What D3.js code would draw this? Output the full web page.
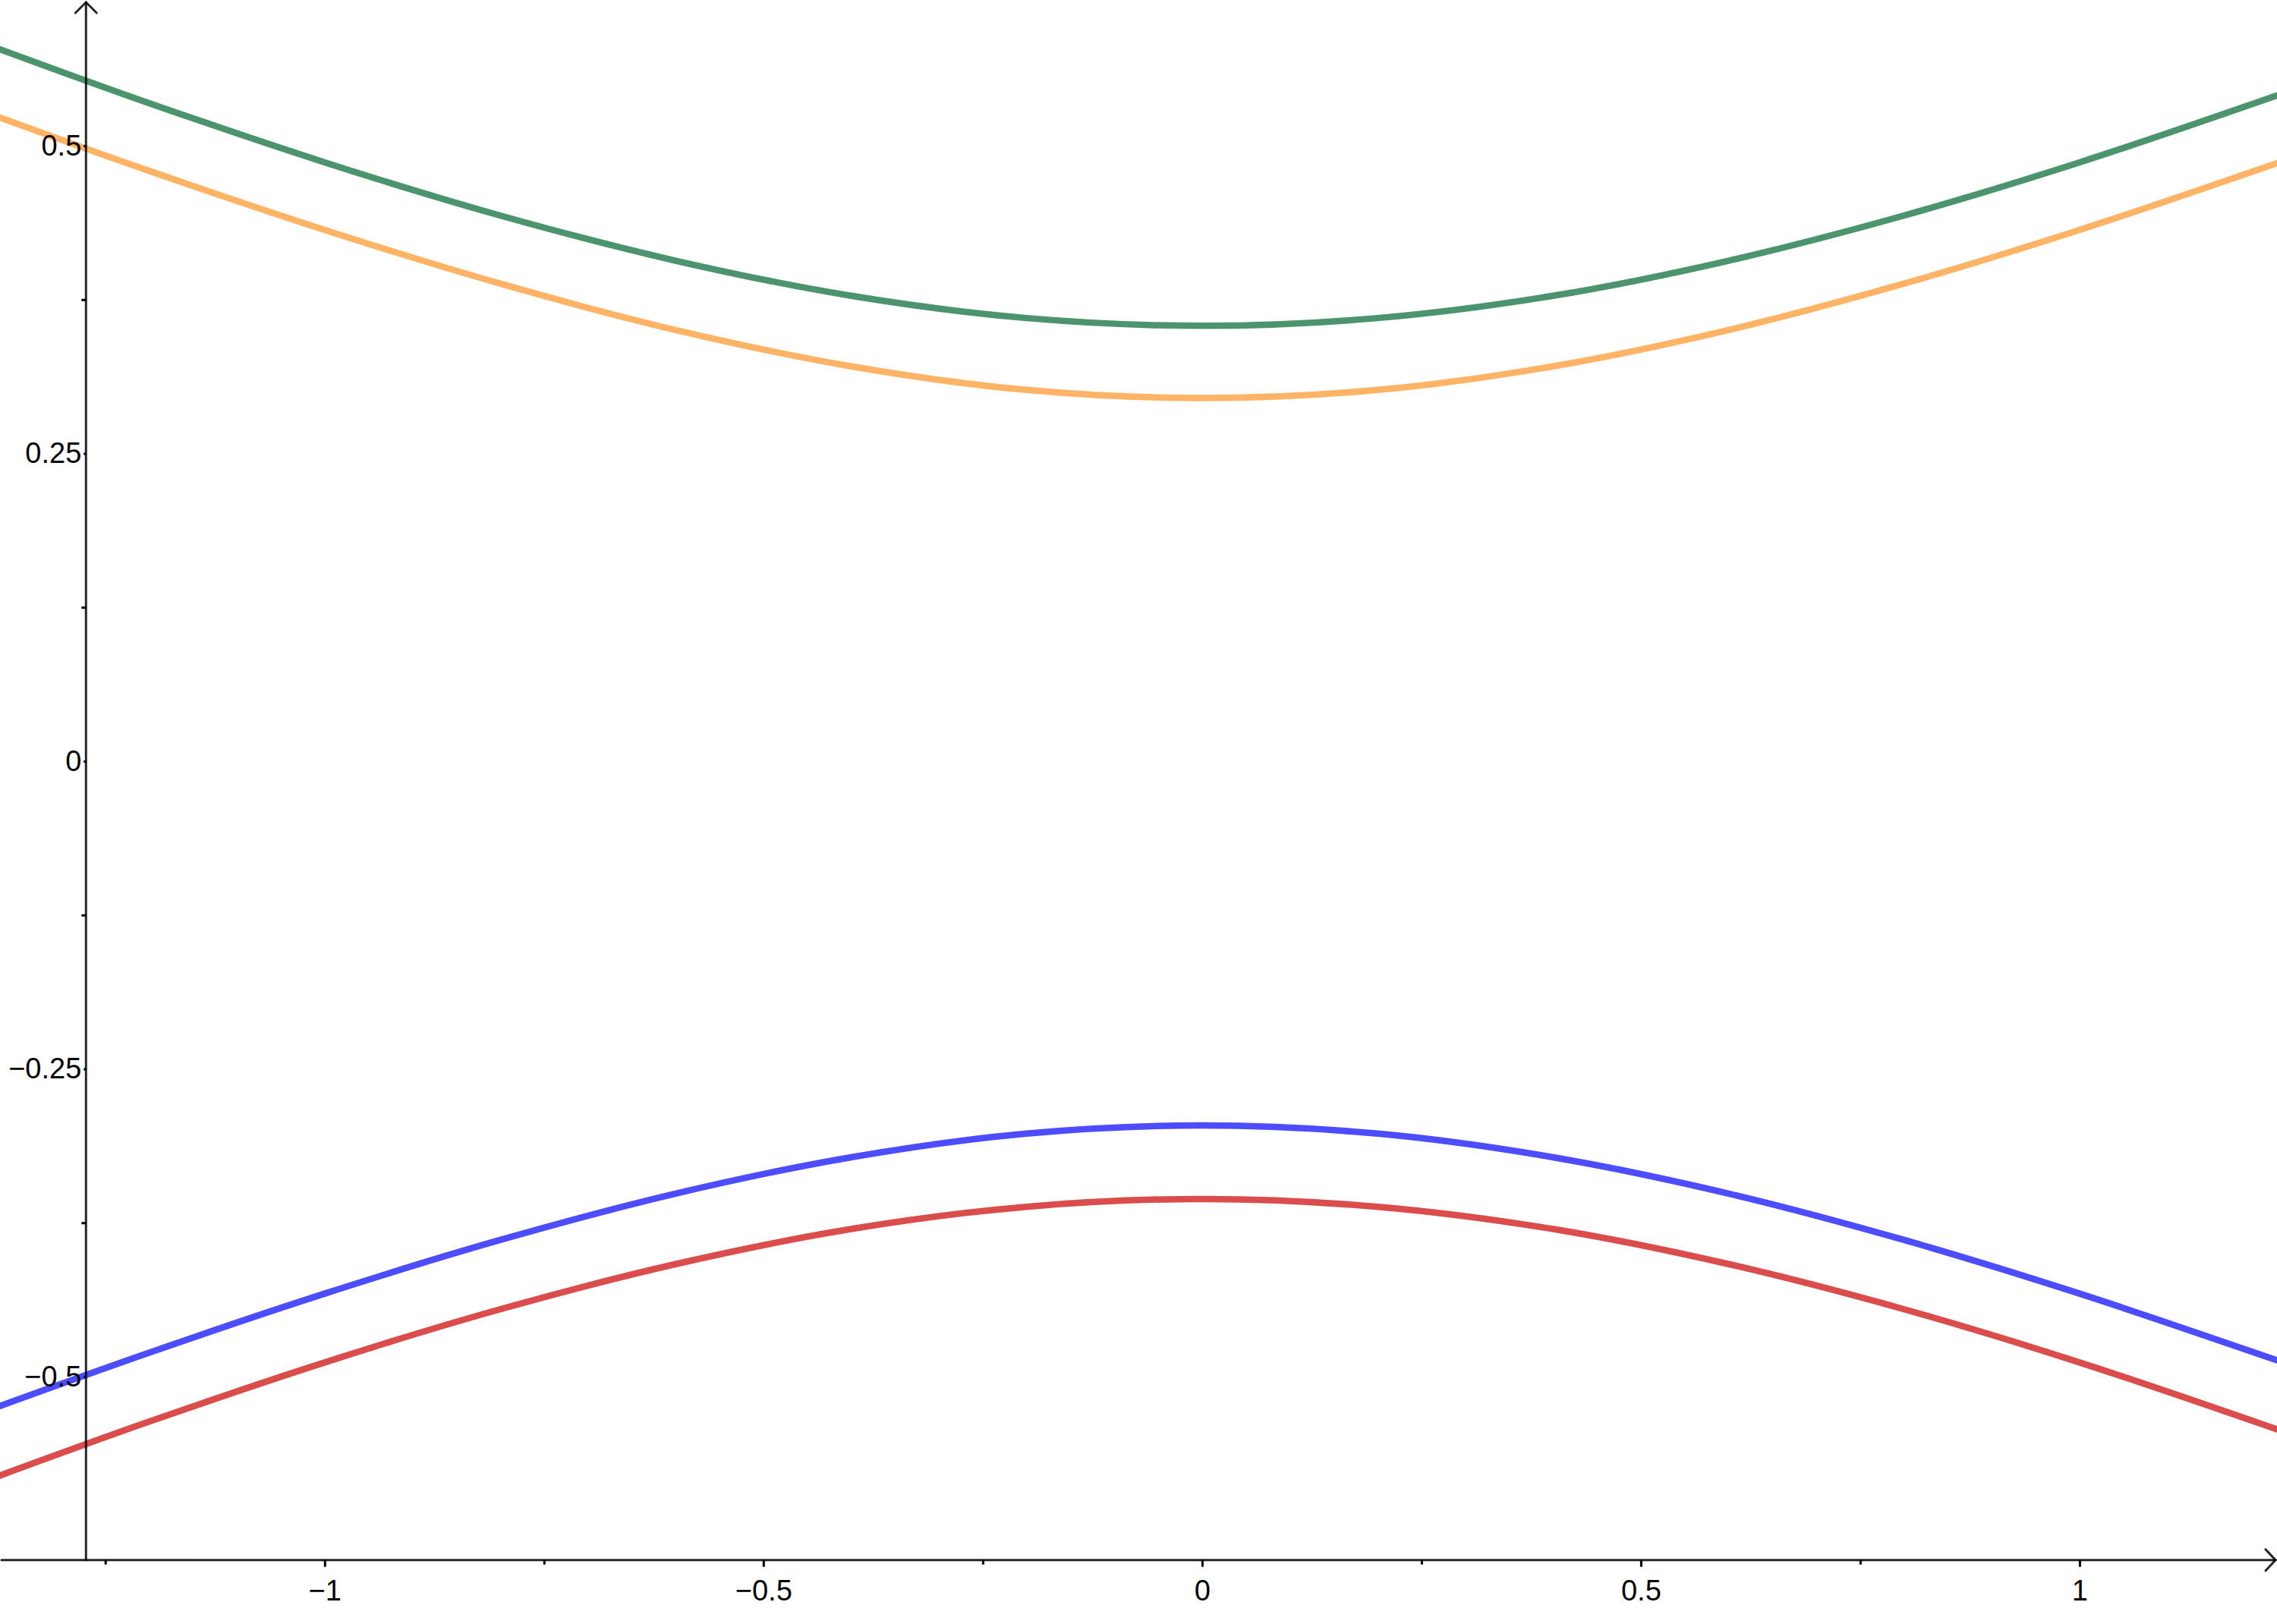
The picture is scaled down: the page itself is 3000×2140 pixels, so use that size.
<!DOCTYPE html>
<html>
<head>
<meta charset="utf-8">
<script src="https://cdn.jsdelivr.net/npm/d3@7"></script>
<style>
  html, body { margin: 0; padding: 0; background: #fff; }
  svg { display: block; }
  text { font-family: "Liberation Sans", Arial, sans-serif; }
</style>
</head>
<body>
<svg id="chart" width="3000" height="2140"></svg>
<script>
// ---- data ----
const xDomain = [-1.370, 1.225];
const yDomain = [-0.701, 0.6184];
const yAxisAtX = -1.272;   // vertical axis sits at this x value
const xAxisAtY = -0.649;   // horizontal axis sits at this y value

const xMajorTicks = [-1, -0.5, 0, 0.5, 1];
const xMajorLabels = ["\u22121", "\u22120.5", "0", "0.5", "1"];
const xMinorTicks = [-1.25, -0.75, -0.25, 0.25, 0.75];

const yMajorTicks = [0.5, 0.25, 0, -0.25, -0.5];
const yMajorLabels = ["0.5", "0.25", "0", "\u22120.25", "\u22120.5"];
const yMinorTicks = [0.375, 0.125, -0.125, -0.375];

const xSamples = [-1.37, -1.2, -1.0, -0.8, -0.6, -0.4, -0.2, 0, 0.2, 0.4, 0.6, 0.8, 1.0, 1.225];
const greenY  = [0.5784, 0.5346, 0.4865, 0.4433, 0.4066, 0.3781, 0.3600, 0.3537, 0.3600, 0.3781, 0.4066, 0.4433, 0.4865, 0.5409];
const orangeY = [0.5229, 0.4796, 0.4316, 0.3880, 0.3503, 0.3208, 0.3016, 0.2950, 0.3016, 0.3208, 0.3503, 0.3880, 0.4316, 0.4858];
const blueY   = [-0.5239, -0.4806, -0.4326, -0.3890, -0.3513, -0.3218, -0.3026, -0.2960, -0.3026, -0.3218, -0.3513, -0.3890, -0.4326, -0.4868];
const redY    = [-0.5804, -0.5366, -0.4885, -0.4453, -0.4086, -0.3801, -0.3620, -0.3557, -0.3620, -0.3801, -0.4086, -0.4453, -0.4885, -0.5429];

const seriesList = [
  { name: "green",  values: greenY,  color: "#4b946e" },
  { name: "orange", values: orangeY, color: "#ffb366" },
  { name: "blue",   values: blueY,   color: "#4d4dff" },
  { name: "red",    values: redY,    color: "#db4d4d" }
];

// ---- drawing ----
const W = 3000, H = 2140;
const svg = d3.select("#chart");
const x = d3.scaleLinear().domain(xDomain).range([0, W]);
const y = d3.scaleLinear().domain(yDomain).range([H, 0]);

const ax0 = x(yAxisAtX);
const ay0 = y(xAxisAtY);

// curves
const line = d3.line()
  .x(d => x(d[0]))
  .y(d => y(d[1]))
  .curve(d3.curveCatmullRom.alpha(0.5));

const curves = svg.append("g");
seriesList.forEach(s => {
  curves.append("path")
    .datum(xSamples.map((xv, i) => [xv, s.values[i]]))
    .attr("d", line)
    .attr("fill", "none")
    .attr("stroke", s.color)
    .attr("stroke-width", 8.5)
    .attr("stroke-linecap", "round")
    .attr("stroke-linejoin", "round");
});

// x axis
const xAxisG = svg.append("g").attr("transform", `translate(0,${ay0})`);
xAxisG.call(
  d3.axisBottom(x)
    .tickValues(xMajorTicks)
    .tickSize(9)
    .tickPadding(17)
    .tickFormat((d, i) => xMajorLabels[i])
);
xAxisG.select(".domain").remove();
xAxisG.selectAll(".tick line").attr("stroke", "#000").attr("stroke-width", 3);
xAxisG.selectAll(".tick text").attr("font-size", 38).attr("fill", "#000")
  .attr("font-family", "'Liberation Sans', Arial, sans-serif");

const xMinorG = svg.append("g").attr("transform", `translate(0,${ay0})`);
xMinorG.call(d3.axisBottom(x).tickValues(xMinorTicks).tickSize(6).tickFormat(""));
xMinorG.select(".domain").remove();
xMinorG.selectAll(".tick line").attr("stroke", "#000").attr("stroke-width", 3);

// y axis
const yAxisG = svg.append("g").attr("transform", `translate(${ax0},0)`);
yAxisG.call(
  d3.axisLeft(y)
    .tickValues(yMajorTicks)
    .tickSize(3)
    .tickPadding(3)
    .tickFormat((d, i) => yMajorLabels[i])
);
yAxisG.select(".domain").remove();
yAxisG.selectAll(".tick line").attr("stroke", "#000").attr("stroke-width", 3);
yAxisG.selectAll(".tick text").attr("font-size", 38).attr("fill", "#000")
  .attr("font-family", "'Liberation Sans', Arial, sans-serif");

const yMinorG = svg.append("g").attr("transform", `translate(${ax0},0)`);
yMinorG.call(d3.axisLeft(y).tickValues(yMinorTicks).tickSize(6).tickFormat(""));
yMinorG.select(".domain").remove();
yMinorG.selectAll(".tick line").attr("stroke", "#000").attr("stroke-width", 3);

// axis lines with arrows
const axes = svg.append("g")
  .attr("stroke", "#000").attr("stroke-opacity", 0.85)
  .attr("stroke-width", 3).attr("fill", "none")
  .attr("stroke-linecap", "round");
axes.append("line").attr("x1", 2).attr("y1", ay0).attr("x2", W - 2).attr("y2", ay0);
axes.append("line").attr("x1", ax0).attr("y1", ay0).attr("x2", ax0).attr("y2", 3);
axes.append("path").attr("d", `M${W - 15},${ay0 - 14} L${W - 2},${ay0} L${W - 15},${ay0 + 14}`);
axes.append("path").attr("d", `M${ax0 - 14},17 L${ax0},3 L${ax0 + 14},17`);
</script>
</body>
</html>
